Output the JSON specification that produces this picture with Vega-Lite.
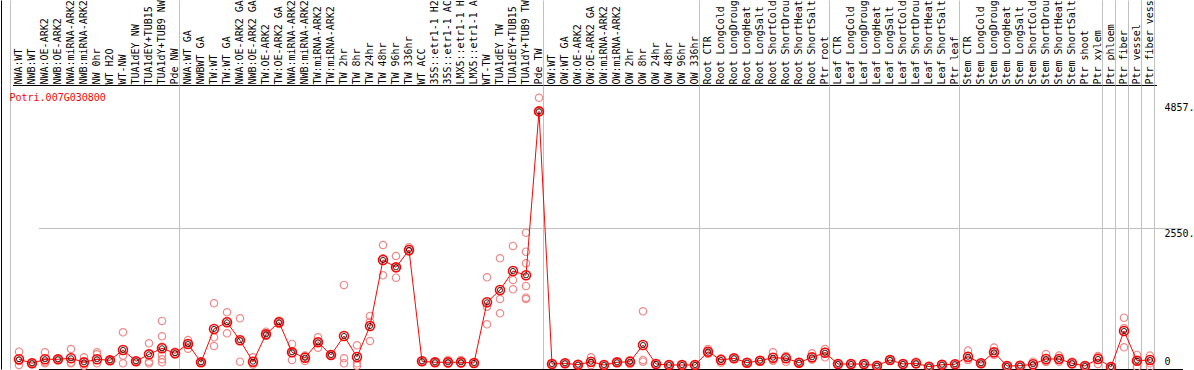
{
  "$schema": "https://vega.github.io/schema/vega-lite/v6.json",
  "width": 1193,
  "height": 284,
  "autosize": {"type": "none"},
  "padding": {"left": 1, "top": 85, "right": 0, "bottom": 1},
  "background": "white",
  "config": {"view": {"stroke": null}, "font": "DejaVu Sans Mono"},
  "data": {"values": [
    {"sample": "NWA:WT", "mean": 142, "reps": [281, 37, 110]},
    {"sample": "NWB:WT", "mean": 68, "reps": [68, 55, 80]},
    {"sample": "NWA:OE-ARK2", "mean": 142, "reps": [270, 68, 90]},
    {"sample": "NWB:OE-ARK2", "mean": 142, "reps": [150, 130, 146]},
    {"sample": "NWA:miRNA-ARK2", "mean": 160, "reps": [331, 68, 80]},
    {"sample": "NWB:miRNA-ARK2", "mean": 86, "reps": [178, 24, 55]},
    {"sample": "NW 0hr", "mean": 142, "reps": [270, 233, 68]},
    {"sample": "WT H2O", "mean": 123, "reps": [130, 110, 128]},
    {"sample": "WT-NW", "mean": 313, "reps": [638, 208, 68]},
    {"sample": "TUA1dEY NW", "mean": 105, "reps": [105, 100, 110]},
    {"sample": "TUA1dEY+TUB15 NW", "mean": 233, "reps": [436, 97, 68]},
    {"sample": "TUA1dY+TUB9 NW", "mean": 344, "reps": [846, 564, 373, 221, 142, 86]},
    {"sample": "Pde NW", "mean": 252, "reps": [281, 239, 236]},
    {"sample": "NWA:WT GA", "mean": 423, "reps": [496, 336, 436]},
    {"sample": "NWBWT GA", "mean": 86, "reps": [86, 90, 82]},
    {"sample": "TW:WT", "mean": 699, "reps": [1171, 546, 386]},
    {"sample": "TW:WT GA", "mean": 822, "reps": [1006, 620, 840]},
    {"sample": "NWA:OE-ARK2 GA", "mean": 491, "reps": [895, 97, 480]},
    {"sample": "NWB:OE-ARK2 GA", "mean": 97, "reps": [178, 68, 45]},
    {"sample": "TW:OE-ARK2", "mean": 601, "reps": [649, 570, 585]},
    {"sample": "TW:OE-ARK2 GA", "mean": 822, "reps": [851, 790, 825]},
    {"sample": "NWA:miRNA-ARK2 GA", "mean": 270, "reps": [423, 129, 258]},
    {"sample": "NWB:miRNA-ARK2 GA", "mean": 171, "reps": [208, 110, 195]},
    {"sample": "TW:miRNA-ARK2", "mean": 454, "reps": [546, 355, 460]},
    {"sample": "TW:miRNA-ARK2 GA", "mean": 221, "reps": [225, 215, 223]},
    {"sample": "TW 2hr", "mean": 570, "reps": [1508, 160, 68]},
    {"sample": "TW 8hr", "mean": 184, "reps": [399, 68, 24]},
    {"sample": "TW 24hr", "mean": 754, "reps": [938, 833, 478]},
    {"sample": "TW 48hr", "mean": 1967, "reps": [2243, 1999, 1686]},
    {"sample": "TW 96hr", "mean": 1833, "reps": [2041, 1642, 1815]},
    {"sample": "TW 336hr", "mean": 2151, "reps": [2201, 2130, 2122]},
    {"sample": "WT ACC", "mean": 105, "reps": [110, 100, 105]},
    {"sample": "35S::etr1-1 H2O", "mean": 86, "reps": [86, 80, 92]},
    {"sample": "35S::etr1-1 ACC", "mean": 86, "reps": [129, 68, 60]},
    {"sample": "LMX5::etr1-1 H2O", "mean": 86, "reps": [129, 68, 62]},
    {"sample": "LMX5::etr1-1 ACC", "mean": 74, "reps": [74, 70, 78]},
    {"sample": "WT-TW", "mean": 1190, "reps": [1649, 1109, 785]},
    {"sample": "TUA1dEY TW", "mean": 1416, "reps": [1999, 1250, 987]},
    {"sample": "TUA1dEY+TUB15 TW", "mean": 1765, "reps": [2225, 1600, 1429]},
    {"sample": "TUA1dY+TUB9 TW", "mean": 1686, "reps": [2469, 2120, 1907, 1489, 1274, 1250]},
    {"sample": "Pde TW", "mean": 4700, "reps": [4950, 4700, 4690]},
    {"sample": "OW:WT", "mean": 55, "reps": [55, 50, 60]},
    {"sample": "OW:WT GA", "mean": 68, "reps": [68, 62, 74]},
    {"sample": "OW:OE-ARK2", "mean": 42, "reps": [42, 40, 45]},
    {"sample": "OW:OE-ARK2 GA", "mean": 97, "reps": [178, 37, 76]},
    {"sample": "OW:miRNA-ARK2", "mean": 37, "reps": [37, 35, 40]},
    {"sample": "OW:miRNA-ARK2 GA", "mean": 86, "reps": [86, 80, 92]},
    {"sample": "OW 2hr", "mean": 97, "reps": [55, 129, 107]},
    {"sample": "OW 8hr", "mean": 404, "reps": [1024, 129, 97]},
    {"sample": "OW 24hr", "mean": 55, "reps": [55, 50, 60]},
    {"sample": "OW 48hr", "mean": 37, "reps": [37, 35, 40]},
    {"sample": "OW 96hr", "mean": 37, "reps": [37, 35, 40]},
    {"sample": "OW 336hr", "mean": 37, "reps": [37, 35, 40]},
    {"sample": "Root CTR", "mean": 281, "reps": [331, 239, 273]},
    {"sample": "Root LongCold", "mean": 129, "reps": [79, 160, 148]},
    {"sample": "Root LongDrought", "mean": 160, "reps": [160, 155, 165]},
    {"sample": "Root LongHeat", "mean": 79, "reps": [79, 75, 83]},
    {"sample": "Root LongSalt", "mean": 116, "reps": [116, 110, 122]},
    {"sample": "Root ShortCold", "mean": 171, "reps": [270, 116, 127]},
    {"sample": "Root ShortDrought", "mean": 160, "reps": [202, 97, 181]},
    {"sample": "Root ShortHeat", "mean": 79, "reps": [79, 75, 83]},
    {"sample": "Root ShortSalt", "mean": 178, "reps": [252, 140, 142]},
    {"sample": "Ptr root", "mean": 263, "reps": [331, 178, 280]},
    {"sample": "Leaf CTR", "mean": 55, "reps": [55, 50, 60]},
    {"sample": "Leaf LongCold", "mean": 55, "reps": [55, 50, 60]},
    {"sample": "Leaf LongDrought", "mean": 55, "reps": [55, 50, 60]},
    {"sample": "Leaf LongHeat", "mean": 24, "reps": [24, 20, 28]},
    {"sample": "Leaf LongSalt", "mean": 129, "reps": [129, 120, 138]},
    {"sample": "Leaf ShortCold", "mean": 55, "reps": [55, 50, 60]},
    {"sample": "Leaf ShortDrought", "mean": 68, "reps": [97, 55, 52]},
    {"sample": "Leaf ShortHeat", "mean": 6, "reps": [6, 4, 8]},
    {"sample": "Leaf ShortSalt", "mean": 42, "reps": [42, 40, 45]},
    {"sample": "Ptr leaf", "mean": 50, "reps": [50, 45, 55]},
    {"sample": "Stem CTR", "mean": 189, "reps": [300, 129, 138]},
    {"sample": "Stem LongCold", "mean": 68, "reps": [68, 62, 74]},
    {"sample": "Stem LongDrought", "mean": 270, "reps": [355, 230, 225]},
    {"sample": "Stem LongHeat", "mean": 18, "reps": [18, 15, 21]},
    {"sample": "Stem LongSalt", "mean": 24, "reps": [24, 20, 28]},
    {"sample": "Stem ShortCold", "mean": 50, "reps": [97, 30, 23]},
    {"sample": "Stem ShortDrought", "mean": 147, "reps": [239, 110, 92]},
    {"sample": "Stem ShortHeat", "mean": 147, "reps": [208, 97, 136]},
    {"sample": "Stem ShortSalt", "mean": 68, "reps": [97, 55, 52]},
    {"sample": "Ptr shoot", "mean": 18, "reps": [18, 15, 21]},
    {"sample": "Ptr xylem", "mean": 147, "reps": [202, 55, 184]},
    {"sample": "Ptr phloem", "mean": 0, "reps": [0, 5, 0]},
    {"sample": "Ptr fiber", "mean": 662, "reps": [906, 712, 362]},
    {"sample": "Ptr vessel", "mean": 116, "reps": [221, 110, 0]},
    {"sample": "Ptr fiber vessel", "mean": 129, "reps": [208, 68, 0]}
  ]},
  "resolve": {"axis": {"x": "independent", "y": "independent"}},
  "layer": [
    {
      "transform": [{"flatten": ["reps"], "as": ["rep"]}],
      "mark": {"type": "point", "shape": "circle", "filled": false, "color": "#f08888", "strokeWidth": 1.2, "size": 55, "opacity": 1},
      "encoding": {
        "x": {
          "field": "sample", "type": "nominal", "sort": null,
          "scale": {"type": "band", "paddingInner": 0, "paddingOuter": 0, "range": [11.5, 1155.5]},
          "axis": {
            "orient": "top", "title": null, "labelAngle": 270, "labelAlign": "left", "labelBaseline": "middle",
            "labelPadding": 1, "labelFont": "DejaVu Sans Mono", "labelFontSize": 10, "labelColor": "#000000",
            "labelOverlap": false, "labelBound": false, "labelLimit": 300, "labelFlush": false,
            "ticks": false, "tickSize": 0, "grid": false, "domain": true, "domainColor": "#000000", "domainWidth": 1
          }
        },
        "y": {
          "field": "rep", "type": "quantitative",
          "scale": {"domain": [-37, 5185], "nice": false, "zero": false},
          "axis": {
            "orient": "right", "title": null, "values": [-37, 0, 2550, 4857],
            "labelExpr": "datum.value < 0 ? '' : datum.value === 0 ? '0' : datum.value + '.'",
            "labelAlign": "left",
            "labelBaseline": {"condition": {"test": "datum.value <= 0", "value": "bottom"}, "value": "top"},
            "labelPadding": -30, "labelFont": "DejaVu Sans Mono", "labelFontSize": 10, "labelColor": "#000000",
            "labelFlush": false, "labelOverlap": false, "labelBound": false,
            "ticks": false, "tickSize": 0, "domain": false,
            "grid": true, "gridWidth": 1,
            "gridColor": {"condition": {"test": "datum.value < 0", "value": "#000000"}, "value": "#c0c0c0"},
            "gridOpacity": {"condition": {"test": "datum.value === 2550 || datum.value < 0", "value": 1}, "value": 0}
          }
        }
      }
    },
    {
      "mark": {"type": "line", "color": "#ff0000", "strokeWidth": 1},
      "encoding": {
        "x": {
          "field": "sample", "type": "nominal", "sort": null,
          "axis": {
            "orient": "top", "title": null, "labels": false, "domain": false,
            "ticks": true, "tickSize": 85, "tickColor": "#c0c0c0", "tickWidth": 1,
            "tickOpacity": {"condition": {"test": "indexof(['Pde NW','Pde TW','OW 336hr','Ptr root','Ptr leaf','Ptr xylem','Ptr phloem','Ptr fiber','Ptr vessel','Ptr fiber vessel'], datum.value) >= 0", "value": 1}, "value": 0},
            "grid": true, "gridColor": "#c0c0c0", "gridWidth": 1,
            "gridOpacity": {"condition": {"test": "indexof(['Pde NW','Pde TW','OW 336hr','Ptr root','Ptr leaf','Ptr xylem','Ptr phloem','Ptr fiber','Ptr vessel','Ptr fiber vessel'], datum.value) >= 0", "value": 1}, "value": 0},
            "bandPosition": 0.8846
          }
        },
        "y": {
          "field": "mean", "type": "quantitative",
          "axis": {
            "orient": "left", "title": "Potri.007G030800", "titleAngle": 0, "titleX": 8, "titleY": 7,
            "titleAlign": "left", "titleBaseline": "top", "titleColor": "#ff0000",
            "titleFont": "DejaVu Sans Mono", "titleFontSize": 10, "titleFontWeight": "normal",
            "labels": false, "ticks": false, "grid": false, "domain": true, "domainColor": "#000000"
          }
        }
      }
    },
    {
      "mark": {"type": "point", "shape": "circle", "filled": false, "color": "#ff0000", "strokeWidth": 1.6, "size": 80, "opacity": 1},
      "encoding": {
        "x": {
          "field": "sample", "type": "nominal", "sort": null,
          "axis": {
            "orient": "top", "title": null, "labels": false, "domain": false,
            "ticks": true, "tickSize": 85, "tickColor": "#c0c0c0", "tickWidth": 1,
            "tickOpacity": {"condition": {"test": "datum.value === 'NWA:WT'", "value": 1}, "value": 0},
            "grid": true, "gridColor": "#c0c0c0", "gridWidth": 1,
            "gridOpacity": {"condition": {"test": "datum.value === 'NWA:WT'", "value": 1}, "value": 0},
            "bandPosition": -0.1923
          }
        },
        "y": {"field": "mean", "type": "quantitative", "axis": null}
      }
    },
    {
      "mark": {"type": "point", "shape": "circle", "filled": false, "color": "#000000", "strokeWidth": 1, "size": 26, "opacity": 0.85},
      "encoding": {
        "x": {
          "field": "sample", "type": "nominal", "sort": null,
          "axis": {
            "orient": "top", "title": null, "labels": false, "domain": false, "grid": false,
            "ticks": true, "tickSize": 85, "tickColor": "#000000", "tickWidth": 1,
            "tickOpacity": {"condition": {"test": "datum.value === 'NWA:WT'", "value": 1}, "value": 0},
            "bandPosition": -0.8846
          }
        },
        "y": {"field": "mean", "type": "quantitative", "axis": null}
      }
    }
  ]
}
